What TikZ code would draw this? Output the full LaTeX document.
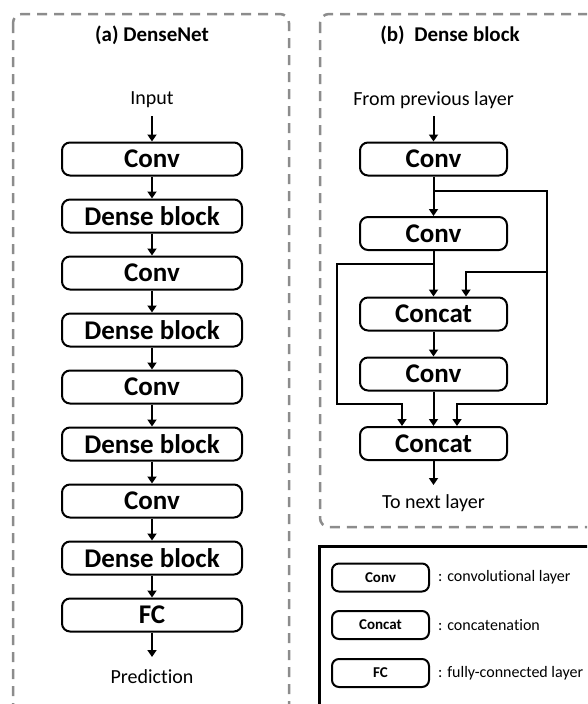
\documentclass[tikz,border=0pt]{standalone}
\usepackage{fontspec}
\setmainfont{Carlito}[Ligatures={NoCommon}]
\usetikzlibrary{arrows.meta}
\definecolor{panelgray}{HTML}{8C8C8C}
\tikzset{
  blk/.style={draw, line width=2pt, rounded corners=8pt, inner sep=0pt,
    minimum height=33pt, font=\fontsize{27}{30}\selectfont\bfseries},
  leftblk/.style={blk, minimum width=180pt},
  rightblk/.style={blk, minimum width=147pt},
  legblk/.style={draw, line width=2pt, rounded corners=7pt, inner sep=0pt,
    minimum width=97pt, minimum height=28pt, font=\fontsize{15}{17}\selectfont\bfseries},
  arr/.style={line width=2pt, -{Triangle[length=7pt,width=9pt]}},
  wire/.style={line width=2pt},
  lbl/.style={inner sep=0pt, font=\fontsize{20}{22}\selectfont},
  title/.style={inner sep=0pt, font=\fontsize{21}{23}\selectfont\bfseries},
  legtxt/.style={inner sep=0pt, anchor=west, font=\fontsize{16}{18}\selectfont},
  panel/.style={draw=panelgray, line width=2.5pt, dash pattern=on 10pt off 7pt, rounded corners=9pt},
}
\begin{document}
\begin{tikzpicture}[x=1pt, y=-1pt]
\useasboundingbox (0,0) rectangle (587,704);
\clip (0,0) rectangle (587,704);

% panel frames
\draw[panel] (13,14) rectangle (289,760);
\draw[panel] (320,14) rectangle (640,527);
\draw[line width=3pt] (319,546) rectangle (640,760);

% (a) DenseNet
\node[title] (ta) at (152,35) {(a) DenseNet};
\node[lbl] (in) at (152,100) {Input};
\node[leftblk] (a1) at (152,159) {Conv};
\node[leftblk] (a2) at (152,216) {Dense block};
\node[leftblk] (a3) at (152,273) {Conv};
\node[leftblk] (a4) at (152,330) {Dense block};
\node[leftblk] (a5) at (152,387) {Conv};
\node[leftblk] (a6) at (152,444) {Dense block};
\node[leftblk] (a7) at (152,501) {Conv};
\node[leftblk] (a8) at (152,558) {Dense block};
\node[leftblk] (a9) at (152,615) {FC};
\coordinate (aend) at (152,657);
\node[lbl] (pred) at (152,677) {Prediction};

\draw[arr] (152,116) -- (a1.north);
\foreach \u/\v in {a1/a2,a2/a3,a3/a4,a4/a5,a5/a6,a6/a7,a7/a8,a8/a9}
  \draw[arr] (\u.south) -- (\v.north);
\draw[arr] (a9.south) -- (aend);

% (b) Dense block
\node[title] (tb) at (450,35) {(b)\ \ Dense block};
\node[lbl] (from) at (433.5,100) {From previous layer};
\node[rightblk] (b1) at (433.5,159) {Conv};
\node[rightblk] (b2) at (433.5,233.5) {Conv};
\node[rightblk] (c1) at (433.5,314) {Concat};
\node[rightblk] (b3) at (433.5,374) {Conv};
\node[rightblk] (c2) at (433.5,443.5) {Concat};
\coordinate (bend) at (433.5,485);
\node[lbl] (next) at (433.5,503) {To next layer};

\draw[arr] (433.5,116) -- (b1.north);
\draw[arr] (b1.south) -- (b2.north);
\draw[arr] (b2.south) -- (c1.north);
\draw[arr] (c1.south) -- (b3.north);
\draw[arr] (b3.south) -- (c2.north);
\draw[arr] (c2.south) -- (bend);

% skip connections
\coordinate (j1) at (433.5,191);
\coordinate (j2) at (433.5,264);
\coordinate (rt) at (547,191);
\coordinate (rm) at (547,272);
\coordinate (rb) at (547,404);
\coordinate (lt) at (337,264);
\coordinate (lb) at (337,404);
\draw[wire, line join=miter] (j1) -- (rt) -- (rb);
\draw[arr, line join=miter] (rb) -| ([xshift=23.5pt]c2.north);
\draw[arr, line join=miter] (rm) -| ([xshift=32.5pt]c1.north);
\draw[arr, line join=miter] (j2) -- (lt) -- (lb) -| ([xshift=-31.5pt]c2.north);

% legend
\node[legblk] (lg1) at (380.5,577.5) {Conv};
\node[legblk] (lg2) at (380.5,625) {Concat};
\node[legblk] (lg3) at (380.5,673) {FC};
\node[legtxt] (lt1) at (438,577.5) {: convolutional layer};
\node[legtxt] (lt2) at (438,625) {: concatenation};
\node[legtxt] (lt3) at (438,673) {: fully-connected layer};
\end{tikzpicture}
\end{document}
